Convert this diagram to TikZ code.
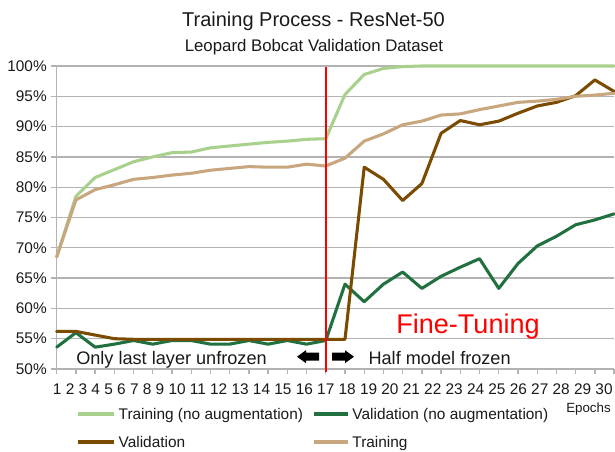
\documentclass[tikz,border=0pt]{standalone}
\usepackage{fontspec}
\setmainfont{Liberation Sans}
\definecolor{lgreen}{HTML}{A9D18E}
\definecolor{dgreen}{HTML}{21703F}
\definecolor{vbrown}{HTML}{7A4B00}
\definecolor{vtan}{HTML}{C8A67E}
\definecolor{gridc}{HTML}{B3B3B3}
\definecolor{txt}{HTML}{1A1A1A}
\tikzset{
  gridline/.style={draw=gridc, line width=1pt},
  series/.style={line width=2.3pt, line join=round, line cap=round},
  swatch/.style={line width=2.6pt},
  ylab/.style={anchor=east, inner sep=0pt, text=txt, font=\fontsize{11.55pt}{13pt}\selectfont},
  leglab/.style={anchor=base west, inner sep=0pt, text=txt, font=\fontsize{11.55pt}{13pt}\selectfont},
  annot/.style={anchor=base west, inner sep=0pt, text=txt, font=\fontsize{13.6pt}{15pt}\selectfont},
  blockarrow/.style={fill=black, draw=none}
}
\begin{document}
\begin{tikzpicture}[x=0.75pt,y=-0.75pt]
\path[use as bounding box, fill=white] (0,0) rectangle (615,452);

% titles
\node[anchor=base, inner sep=0pt, text=txt, font=\fontsize{15pt}{17pt}\selectfont] (title) at (313.5,26.7) {Training Process - ResNet-50};
\node[anchor=base, inner sep=0pt, text=txt, font=\fontsize{12.6pt}{14pt}\selectfont] (subtitle) at (314,51.7) {Leopard Bobcat Validation Dataset};

% grid and y labels
\foreach \p [count=\i] in {50,55,...,100} {
  \draw[gridline] (50.5,{369-(\p-50)*6.06}) -- (614,{369-(\p-50)*6.06});
  \node[ylab] (yl\i) at (47,{369-(\p-50)*6.06}) {\p\%};
}
% y axis
\draw[gridline] (56.7,66) -- (56.7,374);
% x ticks
\foreach \k in {0,...,29} {
  \draw[gridline] ({56.7+19.22*\k},369) -- ({56.7+19.22*\k},374.5);
}
% x labels
\node[anchor=base west, inner sep=0pt, text=txt, font=\fontsize{11.55pt}{13pt}\selectfont] (xlabels) at (52.7,395)
  {1 2 3 4 5 6 7 8 9 10 11 12 13 14 15 16 17 18 19 20 21 22 23 24 25 26 27 28 29 30};

% data
\begin{scope}[shift={(37.48,672)}, x=14.415pt, y=4.545pt]
\draw[series, lgreen] plot coordinates {(1,68.5) (2,78.5) (3,81.6) (4,82.9) (5,84.2) (6,85.0) (7,85.7) (8,85.8) (9,86.5) (10,86.8) (11,87.1) (12,87.4) (13,87.6) (14,87.9) (15,88.0) (16,95.3) (17,98.6) (18,99.6) (19,99.9) (20,100) (21,100) (22,100) (23,100) (24,100) (25,100) (26,100) (27,100) (28,100) (29,100) (30,100)};
\draw[series, dgreen] plot coordinates {(1,53.6) (2,56.0) (3,53.6) (4,54.1) (5,54.7) (6,54.1) (7,54.7) (8,54.7) (9,54.1) (10,54.1) (11,54.7) (12,54.1) (13,54.7) (14,54.1) (15,54.7) (16,64.0) (17,61.1) (18,64.0) (19,66.0) (20,63.3) (21,65.3) (22,66.8) (23,68.2) (24,63.3) (25,67.4) (26,70.3) (27,71.9) (28,73.8) (29,74.6) (30,75.6)};
\draw[series, vbrown] plot coordinates {(1,56.2) (2,56.2) (3,55.6) (4,55.0) (5,54.9) (6,54.9) (7,54.9) (8,54.9) (9,54.9) (10,54.9) (11,54.9) (12,54.9) (13,54.9) (14,54.9) (15,54.9) (16,54.9) (17,83.3) (18,81.3) (19,77.8) (20,80.6) (21,88.9) (22,91.0) (23,90.3) (24,90.9) (25,92.2) (26,93.4) (27,94.0) (28,95.1) (29,97.7) (30,95.8)};
\draw[series, vtan] plot coordinates {(1,68.5) (2,77.9) (3,79.6) (4,80.4) (5,81.3) (6,81.6) (7,82.0) (8,82.3) (9,82.8) (10,83.1) (11,83.4) (12,83.3) (13,83.3) (14,83.8) (15,83.5) (16,84.8) (17,87.6) (18,88.8) (19,90.3) (20,90.9) (21,91.9) (22,92.1) (23,92.8) (24,93.4) (25,94.0) (26,94.2) (27,94.5) (28,95.0) (29,95.2) (30,95.5)};
\end{scope}

% red line
\coordinate (rtop) at (326,67);
\coordinate (rbot) at (326,372);
\draw[red, line width=1.5pt] (rtop) -- (rbot);

% annotations
\node[anchor=base, inner sep=0pt, text=red, font=\fontsize{20.3pt}{22pt}\selectfont] (ft) at (468,334) {Fine-Tuning};
\node[annot] (half) at (368.3,365) {Half model frozen};
\node[annot] (only) at (76,365) {Only last layer unfrozen};

% block arrows
\fill[blockarrow] (297,356.7) -- (306,350.2) -- (306,352.7) -- (319,352.7) -- (319,360.7) -- (306,360.7) -- (306,363.2) -- cycle;
\fill[blockarrow] (354,356.7) -- (345,350.2) -- (345,352.7) -- (332,352.7) -- (332,360.7) -- (345,360.7) -- (345,363.2) -- cycle;

% legend
\draw[swatch, lgreen] (78.4,414) -- (113.7,414);
\node[leglab] (l1) at (118.4,419.5) {Training (no augmentation)};
\draw[swatch, dgreen] (313.7,414) -- (347.8,414);
\node[leglab] (l2) at (352.2,419.5) {Validation (no augmentation)};
\draw[swatch, vbrown] (78.4,442) -- (113.7,442);
\node[leglab] (l3) at (118.4,447.5) {Validation};
\draw[swatch, vtan] (313.7,442) -- (347.8,442);
\node[leglab] (l4) at (352.2,447.5) {Training};
\node[anchor=base east, inner sep=0pt, text=txt, font=\fontsize{10pt}{12pt}\selectfont] (epochs) at (611,413) {Epochs};
\end{tikzpicture}
\end{document}
